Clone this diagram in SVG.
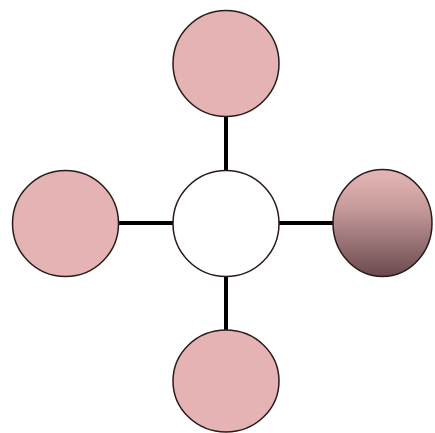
<svg xmlns="http://www.w3.org/2000/svg" width="435" height="433" viewBox="0 0 435 433">
<style>
.n{fill:#e5b3b3;stroke:#2a1a1a;stroke-width:1.5}
.c{fill:#ffffff;stroke:#2a1a1a;stroke-width:1.5}
.e{stroke:#000;stroke-width:4;fill:none}
</style>
<defs>
<linearGradient id="g" x1="0" y1="0" x2="0" y2="1">
<stop offset="0" stop-color="#e6b6b6"/>
<stop offset="0.35" stop-color="#c89c9c"/>
<stop offset="1" stop-color="#6a4a4e"/>
</linearGradient>
</defs>
<rect width="435" height="433" fill="#fff"/>
<g id="edges">
<line class="e" x1="226" y1="116" x2="226" y2="171"/>
<line class="e" x1="226" y1="276" x2="226" y2="331"/>
<line class="e" x1="118" y1="223" x2="173" y2="223"/>
<line class="e" x1="279" y1="223" x2="334" y2="223"/>
</g>
<g id="top"><circle class="n" cx="226" cy="63.5" r="53"/></g>
<g id="left"><circle class="n" cx="65.5" cy="223.5" r="53"/></g>
<g id="center"><circle class="c" cx="226" cy="223.5" r="53"/></g>
<g id="right"><ellipse cx="382.5" cy="223" rx="49.5" ry="53.5" fill="url(#g)" stroke="#2a1a1a" stroke-width="1.5"/></g>
<g id="bottom"><ellipse class="n" cx="226" cy="381" rx="53" ry="51"/></g>
</svg>
